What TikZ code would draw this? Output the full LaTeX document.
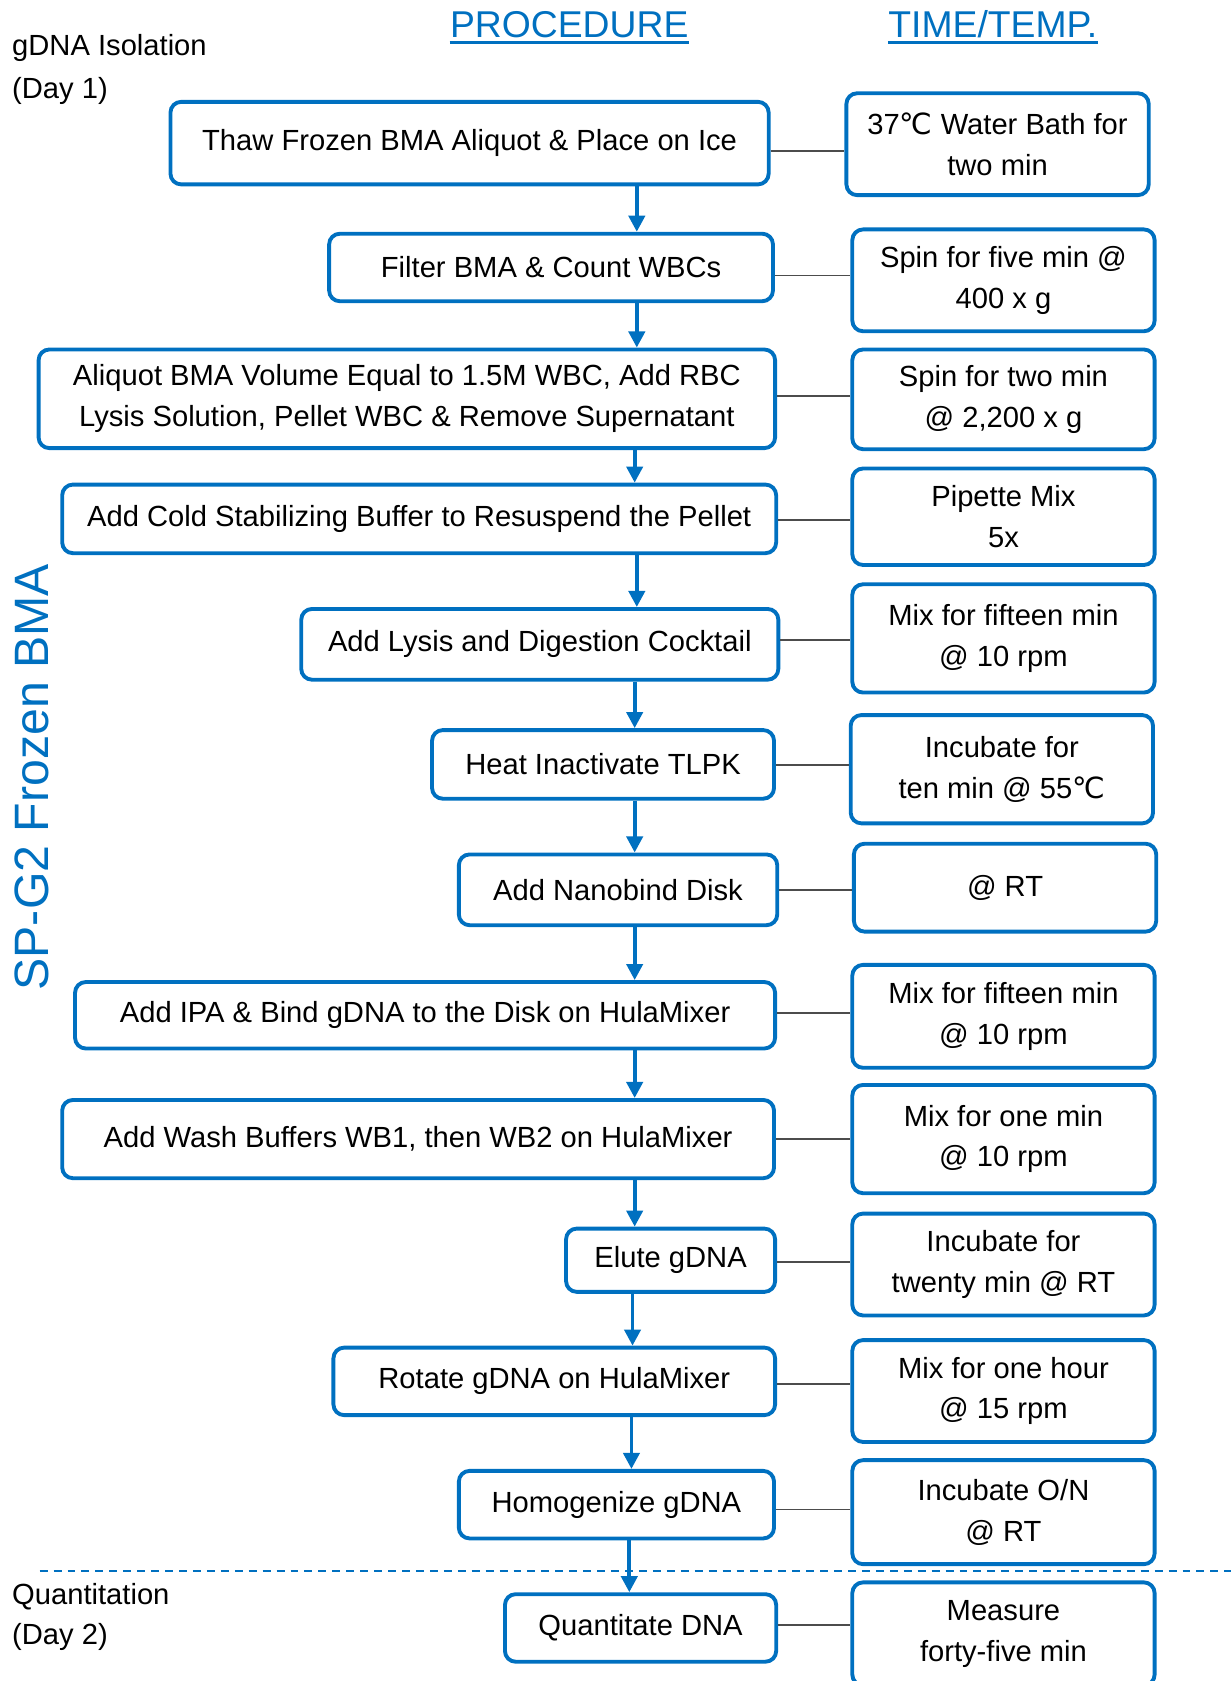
\documentclass[tikz,border=0pt]{standalone}
\usepackage{fontspec}
\setmainfont{Liberation Sans}
\newfontfamily\symfont{DejaVu Sans}
\usepackage{tikz}
\usetikzlibrary{arrows.meta,calc,positioning}
\definecolor{procblue}{HTML}{0070C0}
\newcommand{\degcel}{{\symfont ℃}}

\begin{document}
\begin{tikzpicture}[>={Triangle[width=7.5pt,length=7.5pt]}, x=0.5pt, y=-0.5pt, font=\fontsize{13.6}{19}\selectfont]
	\tikzstyle{procbox} = [draw=procblue, line width=1.8pt, rounded corners=5pt, align=center, inner sep=2pt]
	\tikzstyle{timebox} = [procbox, minimum width=141pt]
	\tikzstyle{flow} = [->, draw=procblue, line width=1.8pt]
	\tikzstyle{link} = [draw=black!70, line width=0.9pt]
	\tikzstyle{header} = [text=procblue, inner sep=0pt, font=\fontsize{17.4}{20}\selectfont]
	
	\useasboundingbox (0,0) rectangle (1148,1568);
	
	% headers and side labels
	\node [header, anchor=base] (proc) at (531,35) {PROCEDURE};
	\node [header, anchor=base] (timetemp) at (926,35) {TIME/TEMP.};
	\draw [procblue, line width=1pt] ($(proc.base west)+(0,4.6)$) -- ($(proc.base east)+(0,4.6)$);
	\draw [procblue, line width=1pt] ($(timetemp.base west)+(0,4.6)$) -- ($(timetemp.base east)+(0,4.6)$);
	\node [anchor=base west, inner sep=0pt] (iso) at (11,52) {gDNA Isolation};
	\node [anchor=base west, inner sep=0pt] (dayone) at (11,92) {(Day 1)};
	\node [anchor=base west, inner sep=0pt] (quanti) at (11,1497) {Quantitation};
	\node [anchor=base west, inner sep=0pt] (daytwo) at (11,1534) {(Day 2)};
	\node [text=procblue, rotate=90, font=\fontsize{22.5}{26}\selectfont] (sample) at (30,725) {SP-G2 Frozen BMA};
	
	% procedure steps
	\node [procbox, minimum width=279pt, minimum height=38.5pt] (thaw) at (438,133.5) {Thaw Frozen BMA Aliquot \& Place on Ice};
	\node [procbox, minimum width=207pt, minimum height=31.5pt] (filter) at (514,249.5) {Filter BMA \& Count WBCs};
	\node [procbox, minimum width=343.5pt, minimum height=46pt] (aliquot) at (379.5,372) {Aliquot BMA Volume Equal to 1.5M WBC, Add RBC\\Lysis Solution, Pellet WBC \& Remove Supernatant};
	\node [procbox, minimum width=333pt, minimum height=32pt] (cold) at (391,484) {Add Cold Stabilizing Buffer to Resuspend the Pellet};
	\node [procbox, minimum width=222.5pt, minimum height=33pt] (lysis) at (503.5,601) {Add Lysis and Digestion Cocktail};
	\node [procbox, minimum width=159.5pt, minimum height=32pt] (heat) at (562.5,713) {Heat Inactivate TLPK};
	\node [procbox, minimum width=148.5pt, minimum height=33pt] (disk) at (576.5,830) {Add Nanobind Disk};
	\node [procbox, minimum width=326.5pt, minimum height=31pt] (ipa) at (396.5,947) {Add IPA \& Bind gDNA to the Disk on HulaMixer};
	\node [procbox, minimum width=332pt, minimum height=36.5pt] (wash) at (390,1062.5) {Add Wash Buffers WB1, then WB2 on HulaMixer};
	\node [procbox, minimum width=97.5pt, minimum height=29.5pt] (elute) at (625.5,1175.5) {Elute gDNA};
	\node [procbox, minimum width=206pt, minimum height=31.5pt] (rotate) at (517,1288.5) {Rotate gDNA on HulaMixer};
	\node [procbox, minimum width=147pt, minimum height=31.5pt] (homog) at (575,1403.5) {Homogenize gDNA};
	\node [procbox, minimum width=126.5pt, minimum height=31.5pt] (quant) at (597.5,1518.5) {Quantitate DNA};
	
	% time / temperature
	\node [timebox, minimum height=47.5pt] (bath) at (930.5,134.5) {37\degcel\ Water Bath for\\two min};
	\node [timebox, minimum height=47.5pt] (spinfive) at (936,261.5) {Spin for five min @\\400 x g};
	\node [timebox, minimum height=46.5pt] (spintwo) at (936,372.5) {Spin for two min\\@ 2,200 x g};
	\node [timebox, minimum height=45pt] (pipette) at (936,482) {Pipette Mix\\5x};
	\node [timebox, minimum height=50.5pt] (mixfifteen) at (936,595.5) {Mix for fifteen min\\@ 10 rpm};
	\node [timebox, minimum height=50.5pt] (incten) at (934.5,717.5) {Incubate for\\ten min @ 55\degcel};
	\node [timebox, minimum height=41pt] (rt) at (937.5,828) {@ RT};
	\node [timebox, minimum height=48pt] (mixbind) at (936,948) {Mix for fifteen min\\@ 10 rpm};
	\node [timebox, minimum height=50.5pt] (mixone) at (936,1062.5) {Mix for one min\\@ 10 rpm};
	\node [timebox, minimum height=47.5pt] (inctwenty) at (936,1179.5) {Incubate for\\twenty min @ RT};
	\node [timebox, minimum height=47.5pt] (mixhour) at (936,1297.5) {Mix for one hour\\@ 15 rpm};
	\node [timebox, minimum height=48.5pt] (incon) at (936,1410.5) {Incubate O/N\\@ RT};
	\node [timebox, minimum height=48pt] (measure) at (936,1524) {Measure\\forty-five min};
	
	% day separator
	\coordinate (sepleft) at (37,1465);
	\coordinate (sepright) at (1148,1465);
	\draw [procblue, line width=1pt, dash pattern=on 3.7pt off 2.8pt] (sepleft) -- (sepright);
	
	\foreach \a/\b/\x in {thaw/filter/594, filter/aliquot/594, aliquot/cold/592, cold/lysis/594, lysis/heat/592, heat/disk/592, disk/ipa/592, ipa/wash/592, wash/elute/592, elute/rotate/590, rotate/homog/589, homog/quant/587}
	{
		\coordinate (col) at (\x,0);
		\draw [flow] (\a.south -| col) -- (\b.north -| col);
	}
	
	\foreach \l/\r/\y in {thaw/bath/141, filter/spinfive/257, aliquot/spintwo/369, cold/pipette/485, lysis/mixfifteen/597, heat/incten/714, disk/rt/830, ipa/mixbind/945, wash/mixone/1062, elute/inctwenty/1177, rotate/mixhour/1291, homog/incon/1408, quant/measure/1516}
	{
		\coordinate (row) at (0,\y);
		\draw [link] (\l.east |- row) -- (\r.west |- row);
	}
	
\end{tikzpicture}
\end{document}
